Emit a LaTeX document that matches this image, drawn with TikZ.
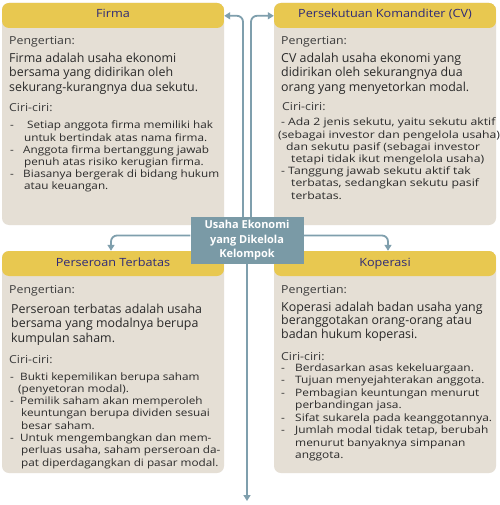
\documentclass[tikz,border=0pt]{standalone}
\usepackage{fontspec}
\setmainfont{Open Sans}
\newfontfamily\bulfont{Open Sans}[FakeStretch=1.15]
\newfontfamily\bulfontw{Open Sans}[FakeStretch=1.2]
\newfontfamily\bulfontk{Open Sans}[FakeStretch=1.17]
\newfontfamily\lblfont{Open Sans}[FakeStretch=1.12]
\usetikzlibrary{arrows.meta}
\definecolor{boxbg}{HTML}{E5DFD5}
\definecolor{hdrbg}{HTML}{E8C850}
\definecolor{hdrtxt}{HTML}{2E2A78}
\definecolor{cbg}{HTML}{7A9AA6}
\definecolor{conncol}{HTML}{7F9FAD}
\definecolor{bodytxt}{HTML}{2A2A2A}
\definecolor{lbltxt}{HTML}{3C3C3C}
\begin{document}
\begin{tikzpicture}[x=1pt,y=-1pt,
 card/.style={draw=none, fill=boxbg, rounded corners=7pt, minimum width=222pt, minimum height=222pt, inner sep=0pt,
   path picture={\fill[hdrbg] (path picture bounding box.north west) rectangle ([yshift=-25pt]path picture bounding box.north east);}},
 ttl/.style={anchor=base, text=hdrtxt, font=\lblfont\fontsize{11.3}{13}\selectfont, inner sep=0pt},
 lbl/.style={anchor=base west, text=lbltxt, font=\lblfont\fontsize{11}{13}\selectfont, inner sep=0pt},
 defn/.style={anchor=north west, align=left, text=bodytxt, font=\fontsize{12.4}{14.5}\selectfont, inner sep=0pt},
 bul/.style={anchor=north west, align=left, text=bodytxt, font=\bulfont\fontsize{10.2}{12.2}\selectfont, inner sep=0pt},
 hub/.style={fill=cbg, text=white, font=\bfseries\fontsize{11}{14.5}\selectfont, align=center, minimum width=113pt, minimum height=47pt, inner sep=0pt},
 conn/.style={draw=conncol, line width=1.8pt, rounded corners=6pt, -{Triangle[length=6pt,width=7pt]}}
]
\useasboundingbox[fill=white] (0,0) rectangle (499,505);

% cards
\node[card] (firma) at (113,114) {};
\node[card] (cv) at (385,114) {};
\node[card] (pt) at (113,362) {};
\node[card] (kop) at (385,362) {};

% Firma
\node[ttl] (firmaT) at (113,18) {Firma};
\node[lbl] (firmaP) at (9,44.7) {Pengertian:};
\node[defn] (firmaD) at (9,52) {\strut Firma adalah usaha ekonomi\\ \strut bersama yang didirikan oleh\\ \strut sekurang-kurangnya dua sekutu.};
\node[lbl] (firmaC) at (9,112) {Ciri-ciri:};
\node[bul] (firmaB) at (10,120.2) {\strut\makebox[17pt][l]{-}Setiap anggota firma memiliki hak\\
\strut\hspace*{14pt}untuk bertindak atas nama firma.\\
\strut\makebox[13pt][l]{-}Anggota firma bertanggung jawab\\
\strut\hspace*{14pt}penuh atas risiko kerugian firma.\\
\strut\makebox[13pt][l]{-}Biasanya bergerak di bidang hukum\\
\strut\hspace*{14pt}atau keuangan.};

% CV
\node[ttl] (cvT) at (385,18) {Persekutuan Komanditer (CV)};
\node[lbl] (cvP) at (281,44.7) {Pengertian:};
\node[defn] (cvD) at (281,52) {\strut CV adalah usaha ekonomi yang\\ \strut didirikan oleh sekurangnya dua\\ \strut orang yang menyetorkan modal.};
\node[lbl] (cvC) at (282,111) {Ciri-ciri:};
\node[bul, font=\bulfontw\fontsize{10.2}{12.2}\selectfont] (cvB) at (278,117.2) {\strut\hspace*{3pt}\makebox[7pt][l]{-}Ada 2 jenis sekutu, yaitu sekutu aktif\\
\strut(sebagai investor dan pengelola usaha)\\
\strut\hspace*{8pt}dan sekutu pasif (sebagai investor\\
\strut\hspace*{13pt}tetapi tidak ikut mengelola usaha)\\
\strut\hspace*{3pt}\makebox[7pt][l]{-}Tanggung jawab sekutu aktif tak\\
\strut\hspace*{13pt}terbatas, sedangkan sekutu pasif\\
\strut\hspace*{13pt}terbatas.};

% Perseroan Terbatas
\node[ttl] (ptT) at (113,266) {Perseroan Terbatas};
\node[lbl] (ptP) at (9,293) {Pengertian:};
\node[defn] (ptD) at (11,303) {\strut Perseroan terbatas adalah usaha\\ \strut bersama yang modalnya berupa\\ \strut kumpulan saham.};
\node[lbl] (ptC) at (9,363) {Ciri-ciri:};
\node[bul, font=\bulfont\fontsize{10.2}{12.3}\selectfont] (ptB) at (10,371.2) {\strut\makebox[10pt][l]{-}Bukti kepemilikan berupa saham\\
\strut\hspace*{8pt}(penyetoran modal).\\
\strut\makebox[10pt][l]{-}Pemilik saham akan memperoleh\\
\strut\hspace*{11pt}keuntungan berupa dividen sesuai\\
\strut\hspace*{11pt}besar saham.\\
\strut\makebox[10pt][l]{-}Untuk mengembangkan dan mem-\\
\strut\hspace*{11pt}perluas usaha, saham perseroan da-\\
\strut\hspace*{11pt}pat diperdagangkan di pasar modal.};

% Koperasi
\node[ttl] (kopT) at (385,266) {Koperasi};
\node[lbl] (kopP) at (281,293) {Pengertian:};
\node[defn, font=\fontsize{12.4}{13.5}\selectfont] (kopD) at (281,301.8) {\strut Koperasi adalah badan usaha yang\\ \strut beranggotakan orang-orang atau\\ \strut badan hukum koperasi.};
\node[lbl] (kopC) at (281,360) {Ciri-ciri:};
\node[bul, font=\bulfontk\fontsize{10.2}{12.5}\selectfont] (kopB) at (281,362.5) {\strut\makebox[14pt][l]{-}Berdasarkan asas kekeluargaan.\\
\strut\makebox[14pt][l]{-}Tujuan menyejahterakan anggota.\\
\strut\makebox[14pt][l]{-}Pembagian keuntungan menurut\\
\strut\hspace*{14pt}perbandingan jasa.\\
\strut\makebox[14pt][l]{-}Sifat sukarela pada keanggotannya.\\
\strut\makebox[14pt][l]{-}Jumlah modal tidak tetap, berubah\\
\strut\hspace*{14pt}menurut banyaknya simpanan\\
\strut\hspace*{14pt}anggota.};

% hub
\node[hub] (hub) at (247,240.5) {Usaha Ekonomi\\yang Dikelola\\Kelompok};
\coordinate (bot) at (247,501);

% connectors
\draw[conn] ([xshift=-4pt]hub.north) |- ([yshift=-13pt]firma.north east);
\draw[conn] ([xshift=4pt]hub.north) |- ([yshift=-13pt]cv.north west);
\draw[conn] ([yshift=5pt]hub.west) -| ([xshift=-2pt]pt.north);
\draw[conn] ([yshift=5pt]hub.east) -| ([xshift=3pt]kop.north);
\draw[conn] (hub.south) -- (bot);
\end{tikzpicture}
\end{document}
